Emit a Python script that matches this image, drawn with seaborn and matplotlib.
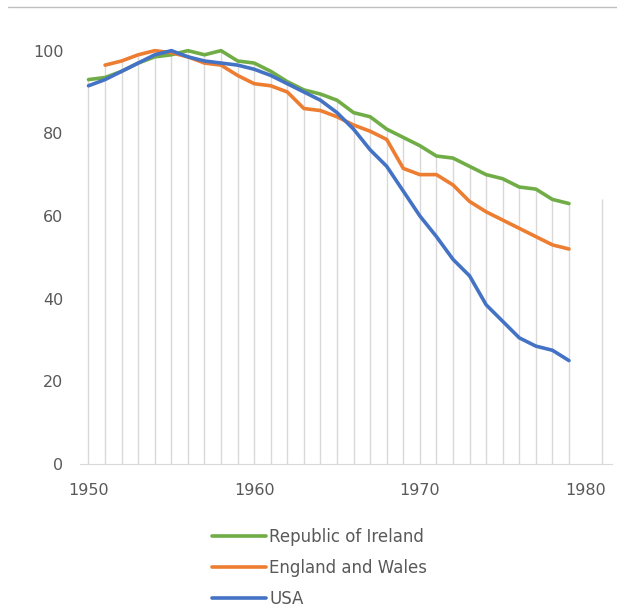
import numpy as np
import pandas as pd
import matplotlib.pyplot as plt
from matplotlib.lines import Line2D
import seaborn as sns

# values (index, peak = 100)
years = list(range(1950, 1980))
ireland = [93, 93.5, 95, 97, 98.5, 99, 100, 99, 100, 97.5,
           97, 95, 92.5, 90.5, 89.5, 88, 85, 84, 81, 79,
           77, 74.5, 74, 72, 70, 69, 67, 66.5, 64, 63]
england = [np.nan, 96.5, 97.5, 99, 100, 99.5, 98.5, 97, 96.5, 94,
           92, 91.5, 90, 86, 85.5, 84, 82, 80.5, 78.5, 71.5,
           70, 70, 67.5, 63.5, 61, 59, 57, 55, 53, 52]
usa = [91.5, 93, 95, 97, 99, 100, 98.5, 97.5, 97, 96.5,
       95.5, 94, 92, 90, 88, 85, 81, 76, 72, 66,
       60, 55, 49.5, 45.5, 38.5, 34.5, 30.5, 28.5, 27.5, 25]
# stray drop line to the right of the series
extra_year = [1981]
extra_value = [64]

series_names = ["Republic of Ireland", "England and Wales", "USA"]
colors = ["#70ad47", "#ed7d31", "#4472c4"]

df = pd.DataFrame({"Year": years, series_names[0]: ireland,
                   series_names[1]: england, series_names[2]: usa})
long_df = df.melt(id_vars="Year", var_name="Series", value_name="Value")

sns.set_style("white")
plt.rcParams["font.family"] = ["DejaVu Sans"]

fig = plt.figure(figsize=(6.17, 6.12), dpi=100)
ax = fig.add_axes([0.13, 0.242, 0.862, 0.709])

# drop lines from the top series down to zero
tops = df[series_names].max(axis=1)
ax.vlines(list(df["Year"]) + extra_year, 0, list(tops) + extra_value,
          color="#d9d9d9", linewidth=1, zorder=1)

sns.lineplot(data=long_df, x="Year", y="Value", hue="Series",
             hue_order=series_names, palette=colors, linewidth=2.6,
             ax=ax, zorder=3)

ax.set_xlim(1949.5, 1981.6)
ax.set_ylim(0, 105)
ax.set_xticks([1950, 1960, 1970, 1980])
ax.set_yticks(range(0, 101, 20))
ax.set_xlabel("")
ax.set_ylabel("")
ax.tick_params(axis="both", length=0, labelsize=11.5, colors="#595959")
ax.tick_params(axis="x", pad=14)
ax.tick_params(axis="y", pad=12)
for side in ["left", "right", "top"]:
    ax.spines[side].set_visible(False)
ax.spines["bottom"].set_color("#d9d9d9")

handles, labels = ax.get_legend_handles_labels()
ax.get_legend().remove()
fig.legend(handles, labels, loc="upper left", bbox_to_anchor=(0.32, 0.162),
           frameon=False, fontsize=12, handlelength=3.2, handletextpad=0.2,
           labelspacing=0.78, labelcolor="#595959")

# thin rule along the top of the picture
fig.add_artist(Line2D([0.013, 1], [0.989, 0.989], color="#bfbfbf", linewidth=1))

fig.savefig("out.png", dpi=100)
